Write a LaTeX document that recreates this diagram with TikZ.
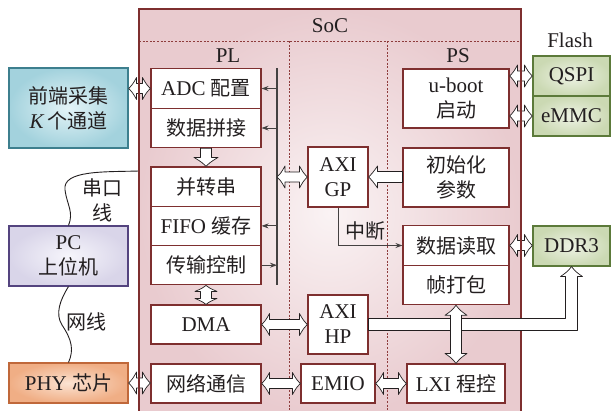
\documentclass[tikz,border=0pt]{standalone}
\usepackage{fontspec}
\setmainfont{Liberation Serif}
\newfontfamily\cjk{Noto Sans CJK SC}
\usetikzlibrary{calc,arrows.meta}
\newcommand\zh[1]{{\cjk\fontsize{20}{25}\selectfont #1}}

\definecolor{boxred}{HTML}{7E2F2F}
\definecolor{dashred}{HTML}{8E3C3C}
\definecolor{socin}{HTML}{FAF3F4}
\definecolor{socout}{HTML}{E9CBCF}
\definecolor{fein}{HTML}{E4F4F7}
\definecolor{feout}{HTML}{A3D2DD}
\definecolor{feline}{HTML}{3D7F8E}
\definecolor{pcin}{HTML}{F6F5FB}
\definecolor{pcout}{HTML}{D9D5E9}
\definecolor{pcline}{HTML}{54447F}
\definecolor{phyin}{HTML}{FBE3D2}
\definecolor{phyout}{HTML}{F0AE85}
\definecolor{phyline}{HTML}{C0683A}
\definecolor{memin}{HTML}{EEF3E5}
\definecolor{memout}{HTML}{CBD9B3}
\definecolor{memline}{HTML}{5C7A3A}
\definecolor{ink}{HTML}{231F20}

% hollow double arrow, horizontal: #1 left end, #2 right end (same height)
\newcommand\dblH[2]{%
  \filldraw[hollow] let \p1=#1, \p2=#2 in
  (\x1,\y1) .. controls (\x1+4pt,\y1+4pt) .. (\x1+8pt,\y1+11pt) -- (\x1+8pt,\y1+5pt)
  -- (\x2-8pt,\y1+5pt) -- (\x2-8pt,\y1+11pt) .. controls (\x2-4pt,\y1+4pt) .. (\x2,\y1)
  .. controls (\x2-4pt,\y1-4pt) .. (\x2-8pt,\y1-11pt) -- (\x2-8pt,\y1-5pt)
  -- (\x1+8pt,\y1-5pt) -- (\x1+8pt,\y1-11pt) .. controls (\x1+4pt,\y1-4pt) .. (\x1,\y1) -- cycle;}
% hollow double arrow, vertical: #1 top end, #2 bottom end, #3 head length
\newcommand\dblV[3]{%
  \filldraw[hollow] let \p1=#1, \p2=#2 in
  (\x1,\y1) .. controls (\x1+4pt,\y1-0.5*#3) .. (\x1+11pt,\y1-#3) -- (\x1+5.5pt,\y1-#3)
  -- (\x1+5.5pt,\y2+#3) -- (\x1+11pt,\y2+#3) .. controls (\x1+4pt,\y2+0.5*#3) .. (\x1,\y2)
  .. controls (\x1-4pt,\y2+0.5*#3) .. (\x1-11pt,\y2+#3) -- (\x1-5.5pt,\y2+#3)
  -- (\x1-5.5pt,\y1-#3) -- (\x1-11pt,\y1-#3) .. controls (\x1-4pt,\y1-0.5*#3) .. (\x1,\y1) -- cycle;}
% hollow single arrow pointing left: #1 tip, #2 tail
\newcommand\oneL[2]{%
  \filldraw[hollow] let \p1=#1, \p2=#2 in
  (\x1,\y1) .. controls (\x1+4pt,\y1+4pt) .. (\x1+9pt,\y1+11pt) -- (\x1+9pt,\y1+5.5pt)
  -- (\x2,\y1+5.5pt) -- (\x2,\y1-5.5pt) -- (\x1+9pt,\y1-5.5pt) -- (\x1+9pt,\y1-11pt)
  .. controls (\x1+4pt,\y1-4pt) .. (\x1,\y1) -- cycle;}
% hollow single arrow pointing down: #1 tail, #2 tip
\newcommand\oneD[2]{%
  \filldraw[hollow] let \p1=#1, \p2=#2 in
  (\x1-5.5pt,\y1) -- (\x1-5.5pt,\y2+9pt) -- (\x1-12pt,\y2+9pt) .. controls (\x1-4pt,\y2+4pt) .. (\x1,\y2)
  .. controls (\x1+4pt,\y2+4pt) .. (\x1+12pt,\y2+9pt) -- (\x1+5.5pt,\y2+9pt) -- (\x1+5.5pt,\y1) -- cycle;}

\begin{document}
\begin{tikzpicture}[x=1pt,y=-1pt,
  font=\fontsize{21}{25}\selectfont, text=ink,
  blk/.style={draw=boxred, line width=1.1pt, fill=white, inner sep=0pt, align=center},
  ext/.style={line width=1.1pt, inner sep=0pt, align=center, shading=radial},
  hollow/.style={draw=ink, fill=white, line width=0.7pt, line join=round},
  socedge/.style={draw=boxred, line width=1.1pt},
  divider/.style={draw=dashred, line width=0.8pt, dash pattern=on 2pt off 1.6pt},
  bus/.style={draw=ink!85, line width=1.1pt},
  tick/.style={draw=ink!85, line width=0.9pt, -{Stealth[length=7pt,width=5pt]}},
  cable/.style={draw=ink, line width=0.9pt},
  lbl/.style={inner sep=0pt, align=center}]
\useasboundingbox (0,0) rectangle (612,410);

% SoC body
\shade[inner color=socin, outer color=socout, shading=radial] (139,9) rectangle (521,416);
\draw[divider] (139,41) -- (521,41);
\draw[divider] (289,41) -- (289,416);
\draw[divider] (387,41) -- (387,416);

\node[lbl] (soc) at (330,26) {SoC};
\node[lbl] (pl) at (228,56) {PL};
\node[lbl] (ps) at (458,56) {PS};
\node[lbl] (flash) at (570,40) {Flash};

% external devices
\node[ext, draw=feline, inner color=fein, outer color=feout, minimum width=119pt, minimum height=80pt] (fe) at (68.5,108) {\zh{前端采集}\\{\itshape K}\,\zh{个通道}};
\node[ext, draw=pcline, inner color=pcin, outer color=pcout, minimum width=119pt, minimum height=60pt] (pc) at (68.5,256) {PC\\\zh{上位机}};
\node[ext, draw=phyline, inner color=phyin, outer color=phyout, minimum width=119pt, minimum height=40pt] (phy) at (68.5,383) {PHY \zh{芯片}};
\node[ext, draw=memline, inner color=memin, outer color=memout, minimum width=77pt, minimum height=40pt] (qspi) at (571.5,76) {QSPI};
\node[ext, draw=memline, inner color=memin, outer color=memout, minimum width=77pt, minimum height=40pt] (emmc) at (571.5,116) {eMMC};
\node[ext, draw=memline, inner color=memin, outer color=memout, minimum width=77pt, minimum height=40pt] (ddr) at (571.5,246) {DDR3};

% PL blocks
\node[blk, minimum width=110pt, minimum height=39.5pt] (adc) at (206,88.5) {ADC \zh{配置}};
\node[blk, minimum width=110pt, minimum height=39.5pt] (pj) at (206,128) {\zh{数据拼接}};
\node[blk, minimum width=110pt, minimum height=39.3pt] (bzc) at (206,186.6) {\zh{并转串}};
\node[blk, minimum width=110pt, minimum height=39.3pt] (fifo) at (206,225.9) {FIFO \zh{缓存}};
\node[blk, minimum width=110pt, minimum height=39.3pt] (csk) at (206,265.2) {\zh{传输控制}};
\node[blk, minimum width=110pt, minimum height=39pt] (dma) at (206,324.5) {DMA};
\node[blk, minimum width=110pt, minimum height=39pt] (wl) at (206,383.5) {\zh{网络通信}};

% interface blocks
\node[blk, minimum width=60pt, minimum height=60pt] (axigp) at (338,177) {AXI\\GP};
\node[blk, minimum width=60pt, minimum height=59pt] (axihp) at (338,324.5) {AXI\\HP};
\node[blk, minimum width=74pt, minimum height=39pt] (emio) at (338,383.5) {EMIO};

% PS blocks
\node[blk, minimum width=106pt, minimum height=59pt] (uboot) at (456,98.5) {u-boot\\\zh{启动}};
\node[blk, minimum width=106pt, minimum height=59pt] (init) at (456,177.5) {\zh{初始化}\\\zh{参数}};
\node[blk, minimum width=106pt, minimum height=39.5pt] (sjdq) at (456,245.5) {\zh{数据读取}};
\node[blk, minimum width=106pt, minimum height=39.5pt] (zdb) at (456,285) {\zh{帧打包}};
\node[blk, minimum width=98pt, minimum height=39pt] (lxi) at (456,383.5) {LXI \zh{程控}};

% control bus in PL
\coordinate (busT) at (277,68);
\coordinate (busB) at (277,285);
\draw[bus] (busT) -- (busB);
\draw[tick] (busT|-adc.east) -- (adc.east);
\draw[tick] (busT|-pj.east) -- (pj.east);
\draw[tick] (busT|-fifo.east) -- (fifo.east);
\draw[tick] (csk.east) -- (busT|-csk.east);

% interrupt line
\draw[tick] (axigp.south) -- (axigp.south|-sjdq.west) -- (sjdq.west);
\node[lbl] (irq) at (365,231) {\zh{中断}};

% cables
\draw[cable] (139,171) .. controls (105,172) and (62,170) .. (65,190)
  .. controls (67,205) and (74,212) .. (pc.north);
\node[lbl] (serial) at (102,200) {\zh{串口}\\\zh{线}};
\draw[cable] (pc.south) .. controls (60,300) and (55,314) .. (62,325)
  .. controls (72,340) and (74,350) .. (phy.north);
\node[lbl] (eth) at (86,322) {\zh{网线}};

% data paths
\dblH{(fe.east|-adc.west)}{(adc.west)}
\dblH{(phy.east)}{(wl.west)}
\oneD{(pj.south)}{(bzc.north)}
\dblV{(csk.south)}{(dma.north)}{6pt}
\dblH{(busT|-axigp.west)}{(axigp.west)}
\oneL{(axigp.east)}{(init.west)}
\dblH{(dma.east)}{(axihp.west)}
\dblH{(wl.east)}{(emio.west)}
\dblH{(emio.east)}{(lxi.west)}
\dblH{(uboot.east|-qspi.west)}{(qspi.west)}
\dblH{(uboot.east|-emmc.west)}{(emmc.west)}
\dblH{(sjdq.east)}{(ddr.west)}

% SoC outline over the short links
\draw[socedge] (139,416) -- (139,9) -- (521,9) -- (521,416);

% AXI HP to DDR3 wide path
\filldraw[hollow] let \p1=(axihp.east), \p2=(ddr.south) in
  (\x1,\y1+6pt) -- (\x2-6pt,\y1+6pt) -- (\x2-6pt,\y2-10pt) -- (\x2-11pt,\y2-10pt)
  .. controls (\x2-4pt,\y2-5pt) .. (\x2,\y2) .. controls (\x2+4pt,\y2-5pt) .. (\x2+11pt,\y2-10pt)
  -- (\x2+6pt,\y2-10pt) -- (\x2+6pt,\y1-6pt) -- (\x1,\y1-6pt) -- cycle;
\dblV{(zdb.south)}{(lxi.north)}{10pt}
\end{tikzpicture}
\end{document}
